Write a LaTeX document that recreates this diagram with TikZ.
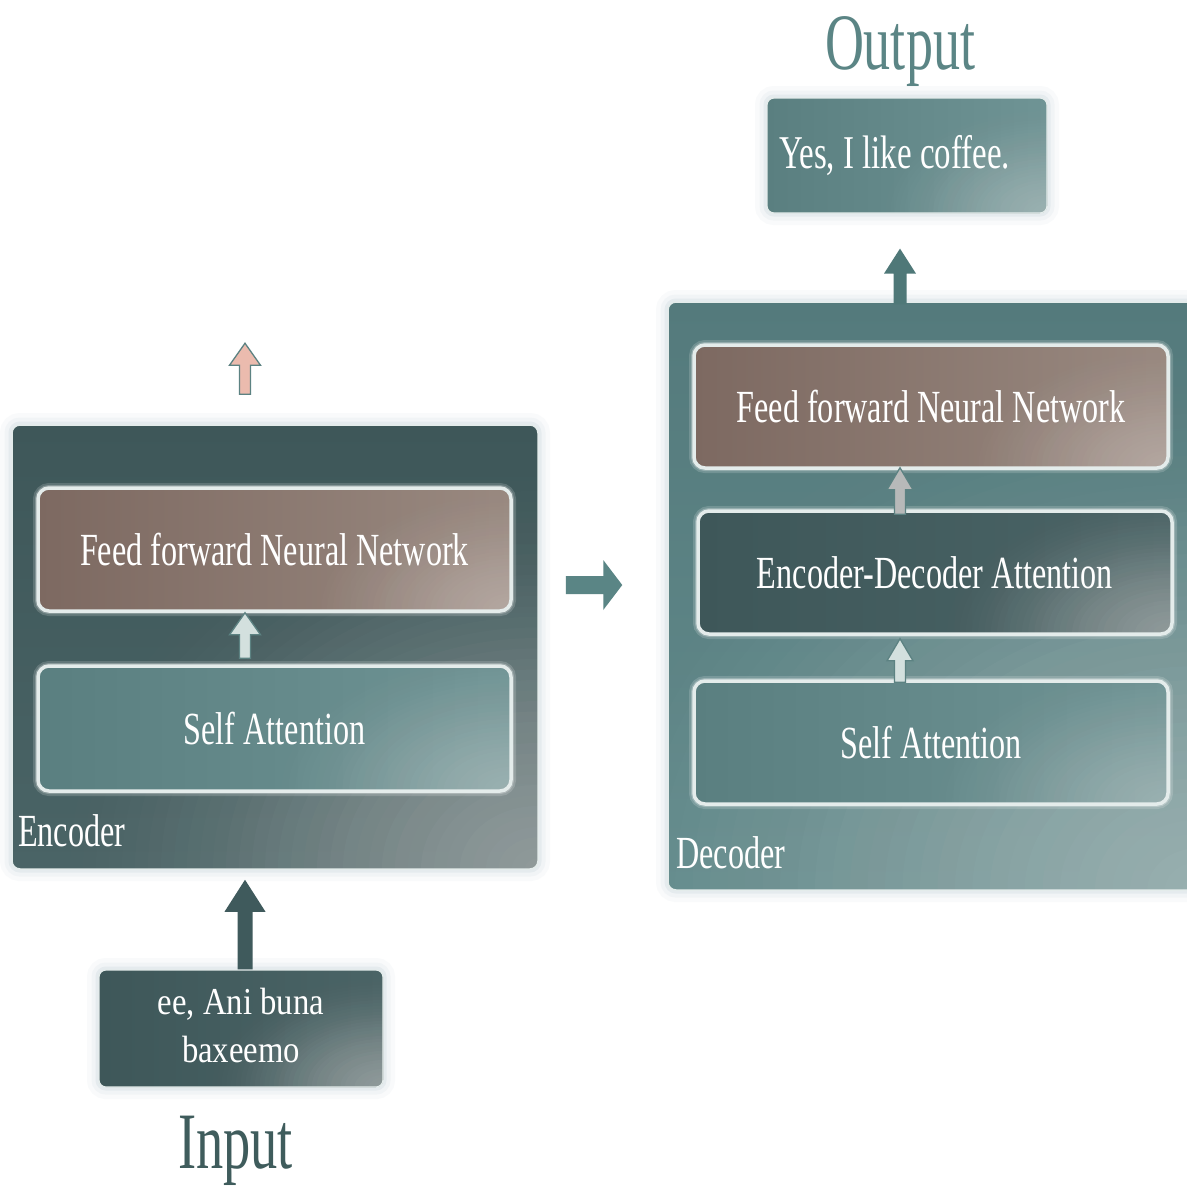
\documentclass[tikz,border=0pt]{standalone}
\usepackage{graphicx}
\usepackage{fontspec}
\setmainfont{Liberation Serif}
\usetikzlibrary{calc}

% colours
\definecolor{slate}{HTML}{3E5759}
\definecolor{slateR}{HTML}{4A6466}
\definecolor{slateHL}{HTML}{A8B0B0}
\definecolor{tealL}{HTML}{5A7F80}
\definecolor{tealR}{HTML}{6F9495}
\definecolor{tealHL}{HTML}{AEC2C2}
\definecolor{tealdecT}{HTML}{547A7C}
\definecolor{tealdecB}{HTML}{628A8B}
\definecolor{brownL}{HTML}{7D6961}
\definecolor{brownR}{HTML}{998980}
\definecolor{brownHL}{HTML}{C4B8B2}
\definecolor{halo}{HTML}{C6D4DB}
\definecolor{rim}{HTML}{E4ECEB}
\definecolor{arrowslate}{HTML}{3F5A5C}
\definecolor{arrowteal}{HTML}{4F7878}
\definecolor{harrow}{HTML}{5A8585}
\definecolor{pinkfill}{HTML}{EBBBAE}
\definecolor{palefill}{HTML}{D3E0DE}
\definecolor{greyfill}{HTML}{B7B9B9}
\definecolor{outline}{HTML}{5C8282}
\definecolor{titleout}{HTML}{5B8585}
\definecolor{titlein}{HTML}{3F5C5C}

% horizontally condensed text
\newcommand\tightx[2][0.70]{\scalebox{#1}[1]{#2}}
\newcommand\layerfont{\fontsize{46}{52}\selectfont}

% block arrow pointing up: style, tail, tip, half shaft, half head, head length
\newcommand\vblock[6]{\path[#1] let \p1=(#2), \p2=(#3) in
  (\x1-#4,\y1) -- (\x1-#4,\y2-#6) -- (\x1-#5,\y2-#6) -- (\x1,\y2)
  -- (\x1+#5,\y2-#6) -- (\x1+#4,\y2-#6) -- (\x1+#4,\y1) -- cycle;}
% block arrow pointing right
\newcommand\hblock[6]{\path[#1] let \p1=(#2), \p2=(#3) in
  (\x1,\y1-#4) -- (\x2-#6,\y1-#4) -- (\x2-#6,\y1-#5) -- (\x2,\y1)
  -- (\x2-#6,\y1+#5) -- (\x2-#6,\y1+#4) -- (\x1,\y1+#4) -- cycle;}

\tikzset{
  panelglow/.style={
    preaction={draw=halo, line width=24pt, opacity=0.10},
    preaction={draw=halo, line width=15pt, opacity=0.15},
    preaction={draw=halo, line width=7pt, opacity=0.28}},
  layerglow/.style={
    preaction={draw=white, line width=10pt, opacity=0.16},
    preaction={draw=white, line width=6pt, opacity=0.25}},
  % soft light spot growing out of the lower right corner:
  % colour, horizontal reach, vertical reach
  shine/.style n args={3}{path picture={
    \foreach \k [evaluate=\k as \op using 0.09*(41-\k)/40] in {1,...,40}{
      \fill[#1, opacity=\op] (path picture bounding box.south east)
        ellipse [x radius={#2/40*\k}, y radius={#3/40*\k}];}}},
  panel/.style={rounded corners=8pt, inner sep=0pt, draw=rim, line width=1.5pt, panelglow},
  iobox/.style={rounded corners=7pt, inner sep=0pt, draw=rim, line width=1.2pt, panelglow,
    text=white},
  layer/.style={rounded corners=11pt, inner sep=0pt, draw=rim, line width=3.5pt, layerglow,
    text=white, font=\layerfont},
  ffnfill/.style={left color=brownL, right color=brownR, shine={brownHL}{230}{140}},
  safill/.style={left color=tealL, right color=tealR, shine={tealHL}{270}{160}},
  edfill/.style={left color=slate, right color=slateR, shine={slateHL}{250}{150}},
  panellabel/.style={text=white, font=\layerfont, inner sep=0pt, anchor=base west},
  solidarrow/.style={fill=#1, draw=none},
  hollowarrow/.style={fill=#1, draw=outline, line width=1.3pt, line join=miter},
}

\begin{document}
\begin{tikzpicture}[x=1pt,y=-1pt]
\useasboundingbox (0,0) rectangle (1187,1187);
\fill[white] (0,0) rectangle (1187,1187);

% columns for the vertical arrows
\coordinate (ecol) at (245,0);
\coordinate (dcol) at (900,0);

% ---------------- encoder ----------------
\node[panel, top color=slate, bottom color=slateR, shine={slateHL}{520}{420},
      minimum width=526pt, minimum height=444pt] (enc) at (275,647) {};
\node[layer, ffnfill, minimum width=473pt, minimum height=123pt] (encffn) at (274.5,549.5)
  {\tightx{Feed forward Neural Network}};
\node[layer, safill, minimum width=473pt, minimum height=125pt] (encsa) at (274.5,728.5)
  {\tightx{Self Attention}};
\node[panellabel] (enclabel) at (18,846) {\tightx{Encoder}};

\vblock{hollowarrow=palefill}{$(ecol |- encsa.north)+(0,-6)$}{ecol |- encffn.south}{5.5pt}{15.5pt}{22pt}
\vblock{hollowarrow=pinkfill}{$(ecol |- enc.north)+(0,-30)$}{$(ecol |- enc.north)+(0,-81)$}{5.5pt}{15.5pt}{22pt}

% ---------------- input ----------------
\node[iobox, left color=slate, right color=slateR, shine={slateHL}{190}{120},
      minimum width=284pt, minimum height=117pt] (inbox) at (241,1028.5)
  {\tightx[0.86]{\fontsize{38}{48}\selectfont\setlength\tabcolsep{0pt}%
    \begin{tabular}{c}ee, Ani buna\\baxeemo\end{tabular}}};
\node[text=titlein, font=\fontsize{80}{90}\selectfont, inner sep=0pt, anchor=base]
  (intitle) at (235.5,1168) {\tightx[0.68]{Input}};
\vblock{solidarrow=arrowslate}{ecol |- inbox.north}{$(ecol |- enc.south)+(0,10)$}{7.5pt}{20.5pt}{32pt}

% ---------------- decoder ----------------
\node[panel, top color=tealdecT, bottom color=tealdecB, shine={tealHL}{700}{560},
      minimum width=532pt, minimum height=588pt] (dec) at (934,596) {};
\node[layer, ffnfill, minimum width=474pt, minimum height=123pt] (decffn) at (931,406.5)
  {\tightx{Feed forward Neural Network}};
\node[layer, edfill, minimum width=474pt, minimum height=123pt] (decmid) at (935,572.5)
  {\tightx{Encoder-Decoder Attention}};
\node[layer, safill, minimum width=474pt, minimum height=123pt] (decsa) at (931,742.5)
  {\tightx{Self Attention}};
\node[panellabel] (declabel) at (676,868) {\tightx{Decoder}};

\vblock{hollowarrow=greyfill}{$(dcol |- decmid.north)+(0,5)$}{$(dcol |- decffn.south)+(0,-2)$}{5.5pt}{13pt}{22pt}
\vblock{hollowarrow=palefill}{$(dcol |- decsa.north)+(0,3)$}{$(dcol |- decmid.south)+(0,3)$}{5.5pt}{13pt}{22pt}

% ---------------- output ----------------
\node[iobox, left color=tealL, right color=tealR, shine={tealHL}{190}{120},
      font=\fontsize{47}{52}\selectfont,
      minimum width=280pt, minimum height=115pt] (outbox) at (907,155.5)
  {\tightx[0.70]{Yes, I like coffee.}\hspace*{25pt}};
\node[text=titleout, font=\fontsize{80}{90}\selectfont, inner sep=0pt, anchor=base]
  (outtitle) at (900,69) {\tightx[0.675]{Output}};
\vblock{solidarrow=arrowteal}{$(dcol |- dec.north)+(0,3)$}{$(dcol |- outbox.south)+(0,35)$}{6.5pt}{16pt}{25pt}

% ---------------- encoder to decoder ----------------
\coordinate (hs) at ($(enc.east)+(27,-62)$);
\coordinate (ht) at ($(dec.west)+(-45,-11)$);
\hblock{solidarrow=harrow}{hs}{ht}{9pt}{25pt}{19pt}
\end{tikzpicture}
\end{document}
